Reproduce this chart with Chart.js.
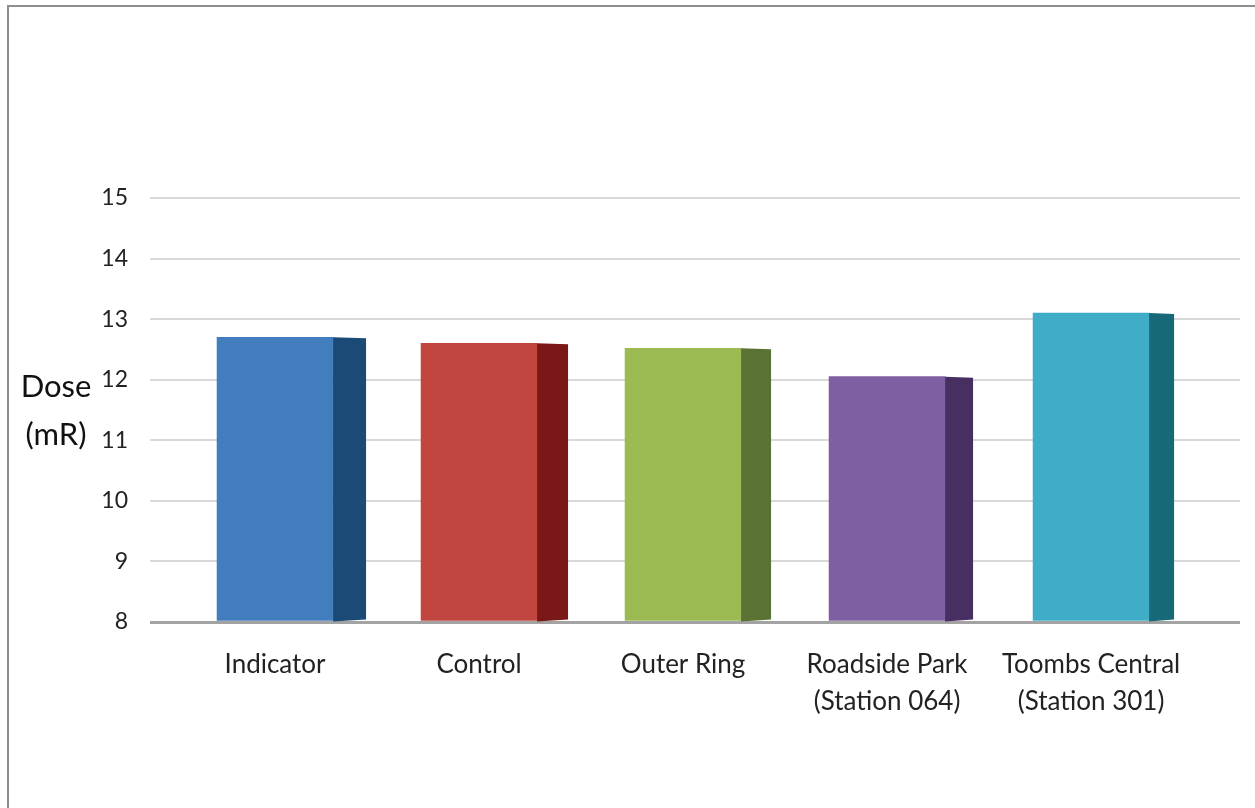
<!DOCTYPE html>
<html>
<head>
<meta charset="utf-8">
<script src="https://cdn.jsdelivr.net/npm/chart.js@4"></script>
<style>
    html, body { margin: 0; padding: 0; background: #fff; overflow: hidden; }
    .wrapper { position: relative; width: 1255px; height: 808px; }
    .frame { position: absolute; left: 7px; top: 5px; width: 1300px; height: 900px;
             border-left: 2px solid #8e8e8e; border-top: 2px solid #8e8e8e; }
    canvas { position: absolute; left: 0; top: 0; }
</style>
</head>
<body>
<div class="wrapper">
    <div class="frame"></div>
    <canvas id="myChart" width="1255" height="808"></canvas>
</div>
<script>
const categories = ["Indicator", "Control", "Outer Ring",
    ["Roadside Park", "(Station 064)"], ["Toombs Central", "(Station 301)"]];
const doseValues = [12.7, 12.6, 12.52, 12.05, 13.1];
const yTicks = [8, 9, 10, 11, 12, 13, 14, 15];

const frontColors = ["#427dbd", "#c0463f", "#9bbb52", "#7e5fa2", "#3fadc8"];
const sideColors = ["#1b4a77", "#7a1818", "#5a7233", "#482f61", "#176978"];
const sideWidths = [33, 31, 30, 28, 25];

const FONT = "'Lato', 'Open Sans', sans-serif";

// darker side face to fake the 3d column look
const sideFaces = {
    id: "sideFaces",
    afterDatasetsDraw(chart) {
        const ctx = chart.ctx;
        const meta = chart.getDatasetMeta(0);
        meta.data.forEach((bar, i) => {
            const p = bar.getProps(["x", "y", "base", "width"], true);
            const right = p.x + p.width / 2;
            const sw = sideWidths[i];
            ctx.save();
            ctx.fillStyle = sideColors[i];
            ctx.beginPath();
            ctx.moveTo(right, p.y);
            ctx.lineTo(right + sw, p.y + 1);
            ctx.lineTo(right + sw, p.base - 1);
            ctx.lineTo(right, p.base + 1);
            ctx.closePath();
            ctx.fill();
            ctx.restore();
        });
    }
};

// horizontal axis title on the left
const yTitle = {
    id: "yTitle",
    afterDraw(chart) {
        const ctx = chart.ctx;
        const y = chart.scales.y;
        const mid = (y.top + y.bottom) / 2;
        ctx.save();
        ctx.fillStyle = "#111";
        ctx.font = "31px " + FONT;
        ctx.textAlign = "center";
        ctx.textBaseline = "middle";
        ctx.fillText("Dose", 56, mid - 23);
        ctx.fillText("(mR)", 56, mid + 25);
        ctx.restore();
    }
};

new Chart("myChart", {
    type: "bar",
    data: {
        datasets: [{
            data: doseValues.map((v, i) => ({ x: i, y: v })),
            backgroundColor: frontColors,
            borderWidth: 0,
            base: 8,
            barThickness: 116
        }]
    },
    options: {
        responsive: false,
        animation: false,
        layout: {
            padding: { top: 198, right: 15, left: 0, bottom: 0 }
        },
        scales: {
            x: {
                type: "linear",
                offset: false,
                min: -0.613,
                max: 4.73,
                afterBuildTicks: (scale) => {
                    scale.ticks = categories.map((c, i) => ({ value: i }));
                },
                afterFit: (scale) => { scale.height = 186; },
                grid: { display: false, drawTicks: false, offset: false },
                border: { display: false },
                ticks: {
                    autoSkip: false,
                    maxRotation: 0,
                    padding: 24,
                    color: "#222",
                    font: { family: FONT, size: 26, lineHeight: 1.42 },
                    callback: (value) => categories[value]
                }
            },
            y: {
                min: 8,
                max: 15,
                afterBuildTicks: (scale) => {
                    scale.ticks = yTicks.map(v => ({ value: v }));
                },
                afterFit: (scale) => { scale.width = 150; },
                grid: {
                    drawTicks: false,
                    lineWidth: (ctx) => ctx.tick && ctx.tick.value === 8 ? 3 : 2,
                    color: (ctx) => ctx.tick && ctx.tick.value === 8 ? "#a3a3a3" : "#d9d9d9"
                },
                border: { display: false },
                ticks: {
                    padding: 22,
                    color: "#222",
                    font: { family: FONT, size: 23 }
                }
            }
        },
        plugins: {
            legend: { display: false },
            tooltip: { enabled: false }
        }
    },
    plugins: [sideFaces, yTitle]
});
</script>
</body>
</html>
